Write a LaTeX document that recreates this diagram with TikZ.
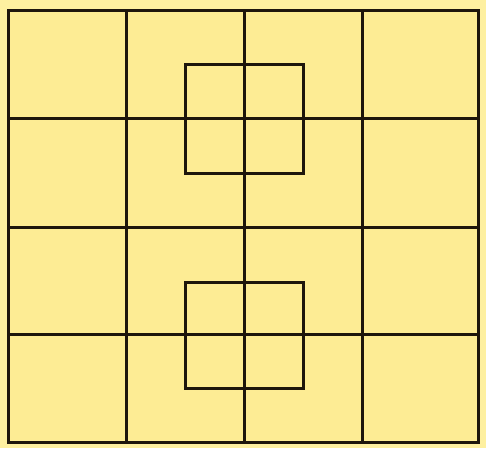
\documentclass[tikz,border=0pt]{standalone}
\definecolor{paper}{RGB}{254,240,160}
\definecolor{cellfill}{RGB}{253,236,148}
\definecolor{ink}{RGB}{30,22,12}
\begin{document}
\begin{tikzpicture}[
  x=1pt, y=1pt,
  gridline/.style={draw=ink, line width=3pt, line cap=rect},
  boxline/.style={draw=ink, line width=3pt}
]
  \useasboundingbox (0,0) rectangle (486,448);
  \fill[paper] (0,0) rectangle (486,448);
  % outer grid 4x4
  \fill[cellfill] (8,6) rectangle (478,437);
  \foreach \x in {8,126,244,362,478}
    \draw[gridline] (\x,6) -- (\x,437);
  \foreach \y in {6,114,221,330,437}
    \draw[gridline] (8,\y) -- (478,\y);
  % the two inner squares
  \draw[boxline] (185,275) rectangle (303,383);
  \draw[boxline] (185,60) rectangle (303,166);
\end{tikzpicture}
\end{document}
